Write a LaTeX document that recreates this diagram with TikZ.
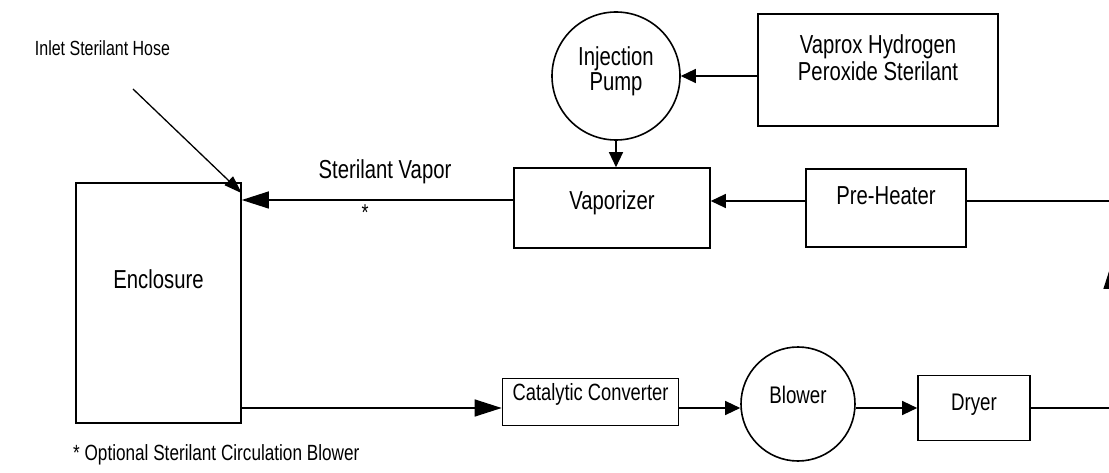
\documentclass[tikz,border=0pt]{standalone}
\usepackage{fontspec}
\setmainfont{Liberation Sans}[FakeStretch=0.78]
\usetikzlibrary{arrows.meta,positioning,calc}
\newcommand{\fsz}[2]{\fontsize{#1}{#2}\selectfont}
\tikzset{
  unit/.style={draw, line width=1.6pt, inner sep=0pt, align=center, font=\fsz{26}{27}},
  rot/.style={unit, circle},
  pipe/.style={line width=1.3pt},
  flow/.style={pipe, -{Triangle[length=15pt,width=14pt]}},
  bigflow/.style={pipe, -{Triangle[length=27pt,width=17pt]}},
  note/.style={inner sep=0pt, font=\fsz{26}{27}},
}

\begin{document}
\begin{tikzpicture}[x=1pt,y=-1pt]
 \useasboundingbox (0,0) rectangle (1109,473);
 \clip (0,0) rectangle (1109,473);
 % supply side
 \node[unit, minimum width=240, minimum height=112, text depth=25pt] (vaprox) at (878,70) {Vaprox Hydrogen\\Peroxide Sterilant};
 \node[rot, minimum size=128, font=\fsz{26}{25}, text depth=14pt] (pump) at (616,76) {Injection\\Pump};
 \node[unit, minimum width=196, minimum height=80, text depth=15pt] (vap) at (612,208) {Vaporizer};
 \node[unit, minimum width=160, minimum height=78, text depth=24pt] (heat) at (886,208) {Pre-Heater};
 \node[unit, minimum width=165, minimum height=240, text depth=47pt] (encl) at (158.5,303) {Enclosure};
 % return side
 \node[unit, minimum width=176, minimum height=47, font=\fsz{23.5}{24}, text depth=21pt] (cat) at (590.5,402) {Catalytic Converter};
 \node[rot, minimum size=114, font=\fsz{24}{24}, text depth=18pt] (blow) at (798,404) {Blower};
 \node[unit, minimum width=112, minimum height=65, font=\fsz{24}{24}, text depth=12pt] (dry) at (974,408) {Dryer};
 % labels
 \node[note, font=\fsz{20.5}{21}] (hose) at (102.5,48) {Inlet Sterilant Hose};
 \node[note] (vlbl) at (385,172) {Sterilant Vapor};
 \node[note, font=\fsz{23}{23}] (star) at (365,213) {*};
 \node[note, font=\fsz{22}{22}, anchor=west] (foot) at (73,455) {* Optional Sterilant Circulation Blower};
 \coordinate (vin) at ([yshift=8pt]vap.west);
 \coordinate (hosetail) at (133,89);
 \coordinate (retbot) at (1112,408);
 \coordinate (retmid) at (1112,262);
 \coordinate (rettop) at (1112,201);
 % connectors
 \draw[flow] (vaprox.west |- pump.east) -- (pump.east);
 \draw[flow] (pump.south) -- (pump.south |- vap.north);
 \draw[flow] ([yshift=7pt]heat.west) -- ([yshift=7pt]heat.west -| vap.east);
 \draw[bigflow] (vin) -- (vin -| encl.east);
 \draw[line width=2.6pt] (vin) -- ++(-17,0);
 \draw[pipe, -{Triangle[length=18pt,width=12pt]}] (hosetail) -- ([yshift=-11pt]encl.north east);
 \draw[bigflow] ([yshift=-6pt]encl.east |- cat.west) -- ([yshift=-6pt]cat.west);
 \draw[flow] ([yshift=-6pt]cat.east) -- ([yshift=-6pt]cat.east -| blow.west);
 \draw[flow] ([yshift=-4pt]blow.east) -- ([yshift=-4pt]blow.east -| dry.west);
 \draw[bigflow] (dry.east) -- (retbot) -- (retmid);
 \draw[pipe] (retmid) -- (rettop) -- ([yshift=7pt]heat.east);
\end{tikzpicture}
\end{document}
